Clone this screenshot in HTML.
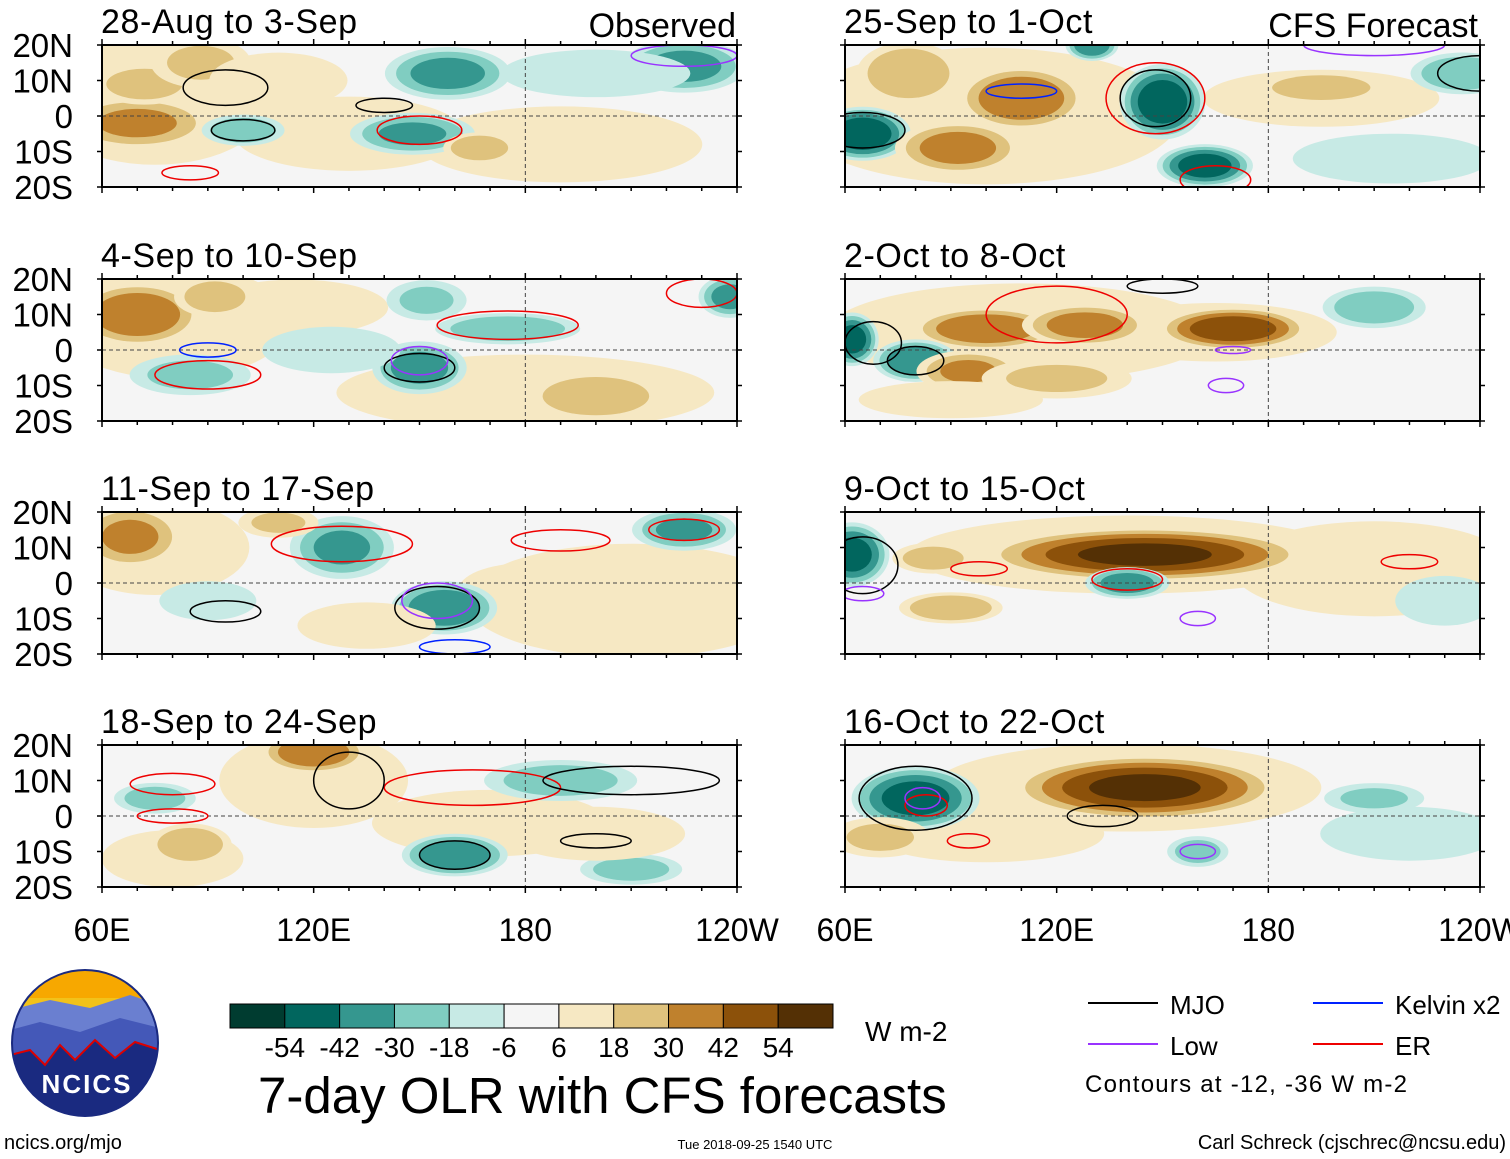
<!DOCTYPE html>
<html><head><meta charset="utf-8">
<style>
body{margin:0;background:#fff;}
svg{display:block;font-family:"Liberation Sans",sans-serif;}
</style></head>
<body>
<svg id="chart" width="1510" height="1159" viewBox="0 0 1510 1159" xmlns="http://www.w3.org/2000/svg">
<g id="panels"></g>
<g id="footer"></g>
</svg>
<script>
// ---- data ----
const panelTitles = ["28-Aug to 3-Sep","4-Sep to 10-Sep","11-Sep to 17-Sep","18-Sep to 24-Sep","25-Sep to 1-Oct","2-Oct to 8-Oct","9-Oct to 15-Oct","16-Oct to 22-Oct"];
const latTicks = ["20N","10N","0","10S","20S"];
const latTickValues = [20,10,0,-10,-20];
const lonTicks = ["60E","120E","180","120W"];
const lonTickValues = [60,120,180,240];
const levelLabels = ["-54","-42","-30","-18","-6","6","18","30","42","54"];
const levelValues = [-54,-42,-30,-18,-6,6,18,30,42,54];
const palette = ["#003c30","#01665e","#35978f","#80cdc1","#c7eae5","#f5f5f5","#f6e8c3","#dfc27d","#bf812d","#8c510a","#543005"];
// OLR anomaly blobs per panel: [lon, lat, value, lonRadius, latRadius]
const blobs = [
 [[75,5,12,25,14],[130,-5,10,25,8],[190,-8,12,30,8],[70,-2,32,14,5],[72,9,25,10,4],[88,15,20,10,5],[100,-4,-30,8,3],[158,12,-35,12,5],[148,-5,-32,12,4],[167,-9,30,7,3],[225,14,-35,12,5],[200,12,-12,20,5],[110,10,10,15,6]],
 [[80,8,12,25,12],[180,-12,12,40,8],[115,12,10,20,6],[70,10,42,12,6],[92,15,25,8,4],[175,6,-30,14,3],[85,-7,-22,12,4],[150,-5,-36,9,5],[200,-13,25,14,5],[152,14,-20,8,4],[238,15,-35,6,4],[125,0,-10,15,5]],
 [[75,10,12,20,10],[210,-5,12,35,12],[180,-2,8,15,6],[68,13,32,10,6],[128,10,-32,10,6],[157,-7,-42,10,5],[225,15,-32,10,4],[110,17,20,8,3],[90,-5,-15,10,4],[135,-12,10,15,5]],
 [[120,10,12,20,10],[170,-2,12,25,7],[80,-12,12,15,6],[120,18,42,10,4],[85,-8,30,8,4],[160,-11,-42,10,4],[190,10,-25,15,4],[210,-15,-25,10,3],[75,5,-25,8,3],[200,-5,8,20,6]],
 [[100,0,15,40,14],[195,5,12,25,6],[65,-5,-54,9,5],[150,4,-52,8,7],[162,-14,-50,9,4],[130,20,-42,5,3],[92,-9,36,12,5],[78,12,30,10,6],[110,5,42,12,6],[195,8,30,12,3],[235,12,-30,10,4],[215,-12,-18,20,5]],
 [[110,5,15,40,10],[165,5,15,25,6],[100,6,42,14,4],[128,7,36,12,4],[170,6,52,14,4],[62,3,-48,5,5],[80,-3,-42,8,4],[95,-6,32,10,4],[210,12,-28,10,4],[120,-8,20,15,4],[90,-14,10,20,4]],
 [[140,8,15,45,8],[210,4,12,30,10],[145,8,56,30,5],[62,8,-48,7,6],[140,0,-38,8,3],[90,-7,30,10,3],[85,7,25,8,3],[230,-5,-18,10,5]],
 [[140,8,15,40,9],[100,-5,12,25,6],[145,8,56,25,6],[80,5,-48,12,6],[210,5,-20,10,3],[70,-6,20,10,4],[160,-10,-25,6,3],[220,-5,-8,20,6]]
];
// contours per panel: [lon, lat, lonRadius, latRadius, type]  type: 0 MJO,1 Low,2 Kelvin,3 ER
const contours = [
 [[100,-4,9,3,0],[95,8,12,5,0],[150,-4,12,4,3],[140,3,8,2,0],[225,17,15,3,1],[85,-16,8,2,3]],
 [[175,7,20,4,3],[90,-7,15,4,3],[150,-5,10,4,0],[150,-3,8,4,1],[230,16,10,4,3],[90,0,8,2,2]],
 [[128,11,20,5,3],[155,-7,12,6,0],[155,-5,10,5,1],[225,15,10,3,3],[95,-8,10,3,0],[190,12,14,3,3],[160,-18,10,2,2]],
 [[80,9,12,3,3],[80,0,10,2,3],[165,8,25,5,3],[160,-11,10,4,0],[200,-7,10,2,0],[130,10,10,8,0],[210,10,25,4,0]],
 [[65,-4,12,5,0],[148,5,10,8,0],[148,5,14,10,3],[110,7,10,2,2],[240,12,12,5,0],[210,20,20,3,1],[165,-18,10,4,3]],
 [[68,2,8,6,0],[80,-3,8,4,0],[120,10,20,8,3],[170,0,5,1,1],[168,-10,5,2,1],[150,18,10,2,0]],
 [[65,5,10,8,0],[140,1,10,3,3],[98,4,8,2,3],[220,6,8,2,3],[160,-10,5,2,1],[65,-3,6,2,1]],
 [[80,5,16,9,0],[83,3,6,3,3],[82,5,5,3,1],[133,0,10,3,0],[95,-7,6,2,3],[160,-10,5,2,1]]
];
const contourColors = ["#000","#9933ff","#0022ff","#ee0000"];
const legendNames = ["MJO","Low","Kelvin x2","ER"];

const NS="http://www.w3.org/2000/svg";
function el(tag,attrs,parent){const e=document.createElementNS(NS,tag);for(const k in attrs)e.setAttribute(k,attrs[k]);if(parent)parent.appendChild(e);return e;}
const panelsG=document.getElementById('panels');
const footG=document.getElementById('footer');
const panelX=[102,845], panelW=635, panelY=[45,279,512,745], panelH=142;
function colorFor(v){let i=0;while(i<levelValues.length&&v>levelValues[i])i++;return palette[i];}

for(let p=0;p<8;p++){
  const col=p<4?0:1,row=p%4;
  const x0=panelX[col],y0=panelY[row];
  const xS=lon=>x0+(lon-60)/180*panelW;
  const yS=lat=>y0+(20-lat)/40*panelH;
  const g=el('g',{},panelsG);
  
  
  const cid='clip'+p;
  const cp=el('clipPath',{id:cid},g);el('rect',{x:x0,y:y0,width:panelW,height:panelH},cp);
  const inner=el('g',{'clip-path':'url(#'+cid+')'},g);
  el('rect',{x:x0,y:y0,width:panelW,height:panelH,fill:'#f5f5f5'},inner);
  blobs[p].forEach(b=>{
    const [lon,lat,v,rx,ry]=b; const s=Math.sign(v),a=Math.abs(v);
    const lv=[6,18,30,42,54].filter(l=>l<a);
    lv.forEach(l=>{
      const f=Math.sqrt(1-l/(a+8));
      const e=el('ellipse',{cx:xS(lon),cy:yS(lat),rx:rx*f*panelW/180*1.6,ry:ry*f*panelH/40*1.6,fill:colorFor(s*(l+1))},inner);
      
      
    });
  });
  el('line',{x1:x0,x2:x0+panelW,y1:yS(0),y2:yS(0),stroke:'#444','stroke-dasharray':'4,3','stroke-width':1},inner);
  el('line',{x1:xS(180),x2:xS(180),y1:y0,y2:y0+panelH,stroke:'#444','stroke-dasharray':'4,3','stroke-width':1},inner);
  contours[p].forEach(c=>{
    const e=el('ellipse',{cx:xS(c[0]),cy:yS(c[1]),rx:c[2]*panelW/180,ry:c[3]*panelH/40,fill:'none',stroke:contourColors[c[4]],'stroke-width':1.5},inner);
    
    
  });
  el('rect',{x:x0,y:y0,width:panelW,height:panelH,fill:'none',stroke:'#000','stroke-width':2},g);
  for(let lon=60;lon<=240;lon+=10){
    const len=lon%60===0?6:4;
    el('line',{x1:xS(lon),x2:xS(lon),y1:y0,y2:y0-len,stroke:'#000','stroke-width':1.5},g);
    el('line',{x1:xS(lon),x2:xS(lon),y1:y0+panelH,y2:y0+panelH+len,stroke:'#000','stroke-width':1.5},g);
  }
  latTickValues.forEach(l=>{
    el('line',{x1:x0,x2:x0-5,y1:yS(l),y2:yS(l),stroke:'#000','stroke-width':1.5},g);
    el('line',{x1:x0+panelW,x2:x0+panelW+5,y1:yS(l),y2:yS(l),stroke:'#000','stroke-width':1.5},g);
  });
  if(col===0){latTickValues.forEach((l,i)=>{const t=el('text',{x:73,y:yS(l)+12,'text-anchor':'end','font-size':33},g);t.textContent=latTicks[i];
    });}
  const tt=el('text',{x:x0-1,y:y0-12,'font-size':34,'letter-spacing':0.6},g);tt.textContent=panelTitles[p];
  
  if(row===3){lonTickValues.forEach((l,i)=>{const t=el('text',{x:xS(l),y:941,'text-anchor':'middle','font-size':32},g);t.textContent=lonTicks[i];
    });}
}
function txt(x,y,s,str,anchor,name){const t=el('text',{x:x,y:y,'font-size':s,'text-anchor':anchor||'start'},footG);t.textContent=str;
  return t;}
txt(736,37,34,"Observed","end","observed-label");
txt(1478,37,34,"CFS Forecast","end","forecast-label");
const cbX=230,cbW=603,cbY=1004,cbH=24,bw=cbW/palette.length;
palette.forEach((c,i)=>{const r=el('rect',{x:cbX+i*bw,y:cbY,width:bw,height:cbH,fill:c,stroke:'#000','stroke-width':1},footG);
  });
levelLabels.forEach((l,i)=>txt(cbX+(i+1)*bw,1057,28,l,"middle","colorbar-label"));
txt(865,1041,28,"W m-2","start","units-label");
txt(258,1113,51,"7-day OLR with CFS forecasts","start","chart-title");
const lg=[[1088,1003,0],[1313,1003,2],[1088,1044,1],[1313,1044,3]];
lg.forEach(a=>{const l=el('line',{x1:a[0],x2:a[0]+70,y1:a[1],y2:a[1],stroke:contourColors[a[2]],'stroke-width':2},footG);
  
  txt(a[0]+82,a[1]+11,26,legendNames[a[2]],"start","legend-entry");});
txt(1085,1092,24,"Contours at -12, -36 W m-2","start","contour-note").setAttribute('textLength','322');
txt(4,1149,20,"ncics.org/mjo","start","website-label");
txt(755,1149,13,"Tue 2018-09-25 1540 UTC","middle","timestamp");
txt(1506,1149,20,"Carl Schreck (cjschrec@ncsu.edu)","end","author-label");
const lgG=el('g',{},footG);
const lcp=el('clipPath',{id:'logoclip'},lgG);el('circle',{cx:85,cy:1043,r:73},lcp);
const li=el('g',{'clip-path':'url(#logoclip)'},lgG);
el('rect',{x:10,y:968,width:150,height:150,fill:'#f2c21a'},li);
el('rect',{x:10,y:968,width:150,height:30,fill:'#f7a800'},li);
el('path',{d:'M10 1010 L50 1000 L90 1008 L130 995 L160 1005 L160 1118 L10 1118Z',fill:'#6a7fd0'},li);
el('path',{d:'M10 1030 L40 1022 L80 1032 L120 1018 L160 1028 L160 1118 L10 1118Z',fill:'#4458b8'},li);
el('path',{d:'M10 1055 L30 1050 L45 1065 L60 1045 L75 1060 L95 1040 L115 1058 L135 1042 L160 1050 L160 1118 L10 1118Z',fill:'#1a2a80',stroke:'#d00',"stroke-width":2},li);
el('circle',{cx:85,cy:1043,r:73,fill:'none',stroke:'#1a2a80','stroke-width':2},lgG);
const nt=el('text',{x:87,y:1093,'font-size':26,'font-weight':'bold','text-anchor':'middle',fill:'#fff','letter-spacing':2},lgG);nt.textContent="NCICS";
</script>
</body></html>
